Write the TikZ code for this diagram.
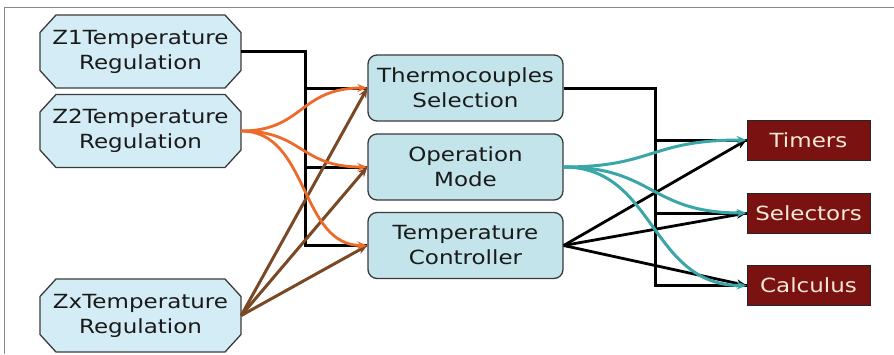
\documentclass[tikz,border=0pt]{standalone}
\usepackage{fontspec}
\setmainfont[FakeStretch=1.18]{DejaVu Sans}
\usetikzlibrary{arrows.meta,calc}
\definecolor{octfill}{HTML}{D3ECF5}
\definecolor{midfill}{HTML}{C2E4EA}
\definecolor{bordr}{HTML}{3A3A3A}
\definecolor{outred}{HTML}{7A1212}
\definecolor{cream}{HTML}{F6E8D6}
\definecolor{txt}{HTML}{1A1A1A}
\definecolor{orng}{HTML}{EE6A2A}
\definecolor{brwn}{HTML}{7A4824}
\definecolor{teal}{HTML}{3AA6A8}
\definecolor{frame}{HTML}{8A8A8A}
\newcommand\octagonat[2]{%
  \filldraw[fill=octfill,draw=bordr,line width=1.3pt,line join=round]
    (#1-100.5,#2-19) -- ++(0,38) -- ++(16,17.5) -- ++(169,0) -- ++(16,-17.5)
    -- ++(0,-38) -- ++(-16,-17.5) -- ++(-169,0) -- cycle;}
\begin{document}
\begin{tikzpicture}[x=1pt,y=-1pt,
  lbl/.style={font=\fontsize{19.5}{25}\selectfont, text=txt, align=center, inner sep=0pt},
  octo/.style={lbl, minimum width=201pt, minimum height=73pt},
  midbox/.style={lbl, draw=bordr, line width=1.3pt, fill=midfill, rounded corners=9pt,
    minimum width=195pt, minimum height=66pt},
  outbox/.style={lbl, draw=black!85, line width=0.8pt, fill=outred, text=cream,
    minimum width=123pt, minimum height=40pt},
  tip/.style={-{Stealth[length=10pt,width=8pt]}},
  blk/.style={draw=black, line width=3pt},
  blkarr/.style={draw=black, line width=2.8pt, tip},
  orgarr/.style={draw=orng, line width=2.8pt, tip},
  brwarr/.style={draw=brwn, line width=3pt, tip},
  tealarr/.style={draw=teal, line width=3pt, tip},
]
\useasboundingbox (0,0) rectangle (894,354);
\draw[frame, line width=1.5pt] (4.5,354) -- (4.5,7.5) -- (894,7.5);

% octagon sources
\octagonat{140.5}{51.5}
\octagonat{140.5}{131}
\octagonat{140.5}{315.5}
\node[octo] (z1) at (140.5,51.5) {Z1Temperature\\Regulation};
\node[octo] (z2) at (140.5,131) {Z2Temperature\\Regulation};
\node[octo] (zx) at (140.5,315.5) {ZxTemperature\\Regulation};

% middle boxes
\node[midbox] (ts) at (465.5,88) {Thermocouples\\Selection};
\node[midbox] (om) at (465.5,167) {Operation\\Mode};
\node[midbox] (tc) at (465.5,245.5) {Temperature\\Controller};

% output boxes
\node[outbox] (tim) at (808.5,140) {Timers};
\node[outbox] (sel) at (808.5,213) {Selectors};
\node[outbox] (cal) at (808.5,285.5) {Calculus};

% black bus from Z1
\draw[blk] (z1.east) -- ++(64.5,0) |- (ts.west);
\draw[blk] (z1.east) -- ++(64.5,0) |- (om.west);
\draw[blk] (z1.east) -- ++(64.5,0) |- (tc.west);

% black bus from Thermocouples Selection
\draw[blk] (ts.east) -- ++(92,0) |- (tim.west);
\draw[blk] (ts.east) -- ++(92,0) |- (sel.west);
\draw[blk] (ts.east) -- ++(92,0) |- (cal.west);

% brown lines from Zx
\draw[brwarr] (zx.east) -- (ts.west);
\draw[brwarr] (zx.east) -- (om.west);
\draw[brwarr] (zx.east) -- (tc.west);

% orange curves from Z2
\draw[orgarr] (z2.east) .. controls +(62,0) and +(-68,0) .. (ts.west);
\draw[orgarr] (z2.east) .. controls +(62,0) and +(-68,0) .. (om.west);
\draw[orgarr] (z2.east) .. controls +(68,0) and +(-68,0) .. (tc.west);

% black lines from Temperature Controller
\draw[blkarr] (tc.east) -- (tim.west);
\draw[blkarr] (tc.east) -- (sel.west);
\draw[blkarr] (tc.east) -- (cal.west);

% teal curves from Operation Mode
\draw[tealarr] (om.east) .. controls +(90,0) and +(-97,0) .. (tim.west);
\draw[tealarr] (om.east) .. controls +(90,0) and +(-97,0) .. (sel.west);
\draw[tealarr] (om.east) .. controls +(92,0) and +(-97,0) .. (cal.west);
\end{tikzpicture}
\end{document}
